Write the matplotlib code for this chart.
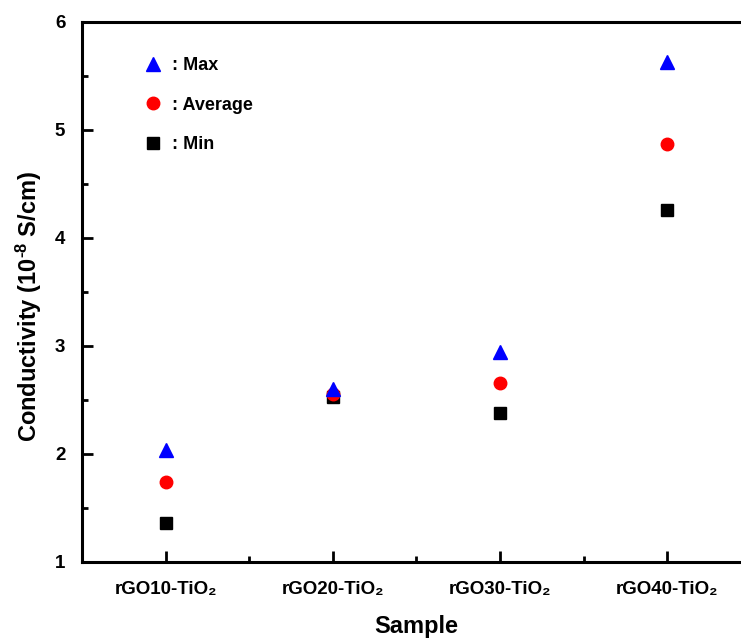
import matplotlib
matplotlib.use("Agg")
import matplotlib.pyplot as plt
from matplotlib.ticker import MultipleLocator

plt.rcParams['font.family'] = ['Liberation Sans', 'DejaVu Sans']
plt.rcParams['font.weight'] = 'bold'
plt.rcParams['mathtext.fontset'] = 'custom'
plt.rcParams['mathtext.rm'] = 'Liberation Sans:bold'
plt.rcParams['mathtext.bf'] = 'Liberation Sans:bold'
plt.rcParams['mathtext.default'] = 'bf'

samples = ["rGO10-TiO\u2082", "rGO20-TiO\u2082", "rGO30-TiO\u2082", "rGO40-TiO\u2082"]
cond_max = [2.04, 2.60, 2.94, 5.63]
cond_avg = [1.74, 2.56, 2.66, 4.87]
cond_min = [1.36, 2.53, 2.38, 4.26]

pos = list(range(1, len(samples) + 1))

fig = plt.figure(figsize=(7.41, 6.41), dpi=100)
ax = fig.add_axes([82/741, 79/641, 669/741, 540/641])

ax.plot(pos, cond_min, 's', color='black', markersize=8, label=': Min', zorder=3)
ax.plot(pos, cond_avg, 'o', color='red', markersize=9, label=': Average', zorder=4)
ax.plot(pos, cond_max, '^', color='blue', markersize=10.5, label=': Max', zorder=5)

ax.set_xlim(0.5, 4.5)
ax.set_ylim(1, 6)
ax.set_xticks(pos)
ax.set_xticklabels(samples, fontsize=13.5, fontweight='bold')
ax.set_xticks([1.5, 2.5, 3.5], minor=True)
ax.yaxis.set_major_locator(MultipleLocator(1))
ax.yaxis.set_minor_locator(MultipleLocator(0.5))
for lab in ax.get_yticklabels():
    lab.set_fontsize(13.5)
    lab.set_fontweight('bold')

ax.tick_params(which='major', direction='in', length=8, width=2)
ax.tick_params(which='minor', direction='in', length=4, width=2)
ax.tick_params(axis='x', pad=14)
ax.tick_params(axis='y', pad=12)

for s in ['left', 'bottom', 'top']:
    ax.spines[s].set_linewidth(2.2)
ax.spines['right'].set_visible(False)

ax.set_xlabel('Sample', fontsize=17, fontweight='bold', labelpad=12)
ax.set_ylabel(r'Conductivity (10$^{\text{-}8}$ S/cm)', fontsize=17, fontweight='bold')
ax.yaxis.set_label_coords(-0.057, 0.474)

handles, labels = ax.get_legend_handles_labels()
ax.legend(handles[::-1], labels[::-1], loc='upper left', bbox_to_anchor=(0.061, 0.965),
          frameon=False, handletextpad=0.3, labelspacing=1.25,
          handlelength=1.5, prop={'weight': 'bold', 'size': 13})

fig.savefig('out.png', dpi=100)
